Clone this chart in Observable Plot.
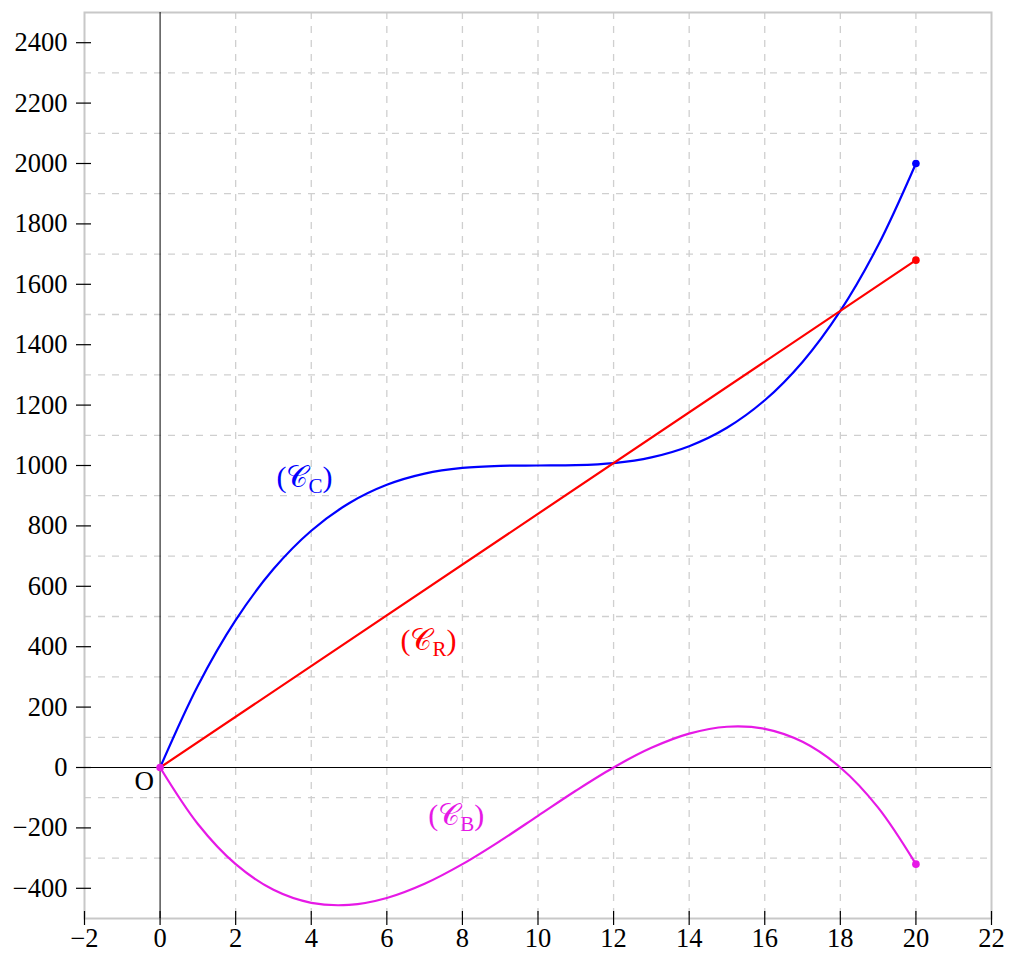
<!DOCTYPE html>
<html><head><meta charset="utf-8">
<script src="https://cdn.jsdelivr.net/npm/d3@7"></script>
<script src="https://cdn.jsdelivr.net/npm/@observablehq/plot@0.6"></script>
<style>body{margin:0;background:#fff}</style>
</head><body><div id="chart"></div>
<script>
// Data
const xs = [0,1,2,3,4,5,6,7,8,9,10,11,12,13,14,15,16,17,18,19,20];
const costC = [0,271,488,657,784,875,936,973,992,999,1000,1001,1008,1027,1064,1125,1216,1343,1512,1729,2000];
const revenueX = [0,20];
const revenueR = [0,1680];
const profitB = [0,-187,-320,-405,-448,-455,-432,-385,-320,-243,-160,-77,0,65,112,135,128,85,0,-133,-320];
const xTicks = [-2,0,2,4,6,8,10,12,14,16,18,20,22];
const yTicks = [-400,-200,0,200,400,600,800,1000,1200,1400,1600,1800,2000,2200,2400];
const xGrid = [2,4,6,8,10,12,14,16,18,20];
const yGrid = [-300,-100,100,300,500,700,900,1100,1300,1500,1700,1900,2100,2300];
const xDomain = [-2,22];
const yDomain = [-500,2500];
const labelNames = ["C","R","B"];
const labelX = [3.82,7.1,7.84];
const labelY = [960,420,-160];
const colors = {C:"#0000ff", R:"#ff0000", B:"#e619e6"};

const seriesC = xs.map((x,i)=>({x, y: costC[i]}));
const seriesR = revenueX.map((x,i)=>({x, y: revenueR[i]}));
const seriesB = xs.map((x,i)=>({x, y: profitB[i]}));
const labels = labelNames.map((n,i)=>({n, x: labelX[i], y: labelY[i]}));
const endDots = [
  {x: xs[xs.length-1], y: costC[costC.length-1], c: colors.C},
  {x: revenueX[1], y: revenueR[1], c: colors.R},
  {x: xs[xs.length-1], y: profitB[profitB.length-1], c: colors.B},
  {x: xs[0], y: profitB[0], c: colors.B}
];

const grid = {stroke:"#cfcfcf", strokeWidth:1.3, strokeDasharray:"7 7"};
const fmt = d3.format("");

const chart = Plot.plot({
  width: 1010, height: 954,
  marginLeft: 84, marginRight: 19, marginTop: 12, marginBottom: 36,
  style: {fontFamily: "'Liberation Serif', serif", fontSize: "26px", background: "#fff"},
  x: {domain: xDomain, label: null},
  y: {domain: yDomain, label: null},
  marks: [
    Plot.ruleX(xGrid, grid),
    Plot.ruleY(yGrid, grid),
    Plot.frame({stroke:"#c8c8c8", strokeWidth:2}),
    Plot.ruleX([0], {stroke:"black", strokeWidth:1}),
    Plot.ruleY([0], {stroke:"black", strokeWidth:1}),
    Plot.ruleY(yTicks, {y: d=>d, x1: d=>xDomain[0], x2: d=>xDomain[0], insetLeft:-8, insetRight:-7, stroke:"black", strokeWidth:1.2}),
    Plot.ruleX(xTicks, {x: d=>d, y1: d=>yDomain[0], y2: d=>yDomain[0], insetTop:-7, insetBottom:-7, stroke:"black", strokeWidth:1.2}),
    Plot.axisY(yTicks, {tickSize:0, tickPadding:17, fontSize:26.5, tickFormat: fmt, label:null}),
    Plot.axisX(xTicks, {tickSize:0, tickPadding:10, fontSize:26.5, tickFormat: fmt, label:null}),
    Plot.line(seriesC, {x:"x", y:"y", stroke: colors.C, strokeWidth:2.2, curve:"catmull-rom"}),
    Plot.line(seriesR, {x:"x", y:"y", stroke: colors.R, strokeWidth:2.2}),
    Plot.line(seriesB, {x:"x", y:"y", stroke: colors.B, strokeWidth:2.2, curve:"catmull-rom"}),
    Plot.dot(endDots, {x:"x", y:"y", fill: d=>d.c, r:3.8}),
    Plot.text(labels, {x:"x", y:"y", text: d=>`(𝒞${d.n})`, fill: d=>colors[d.n], fontSize:30}),
    Plot.text([{x:0,y:0}], {x:"x", y:"y", text: ()=>"O", textAnchor:"end", dx:-6, dy:14, fontSize:27, fill:"black"})
  ]
});

// Turn the subscript letter into a real subscript tspan
chart.querySelectorAll("text").forEach(t => {
  const m = t.textContent.match(/^\(𝒞(.)\)$/);
  if (!m) return;
  t.textContent = "";
  const ns = "http://www.w3.org/2000/svg";
  const a = document.createElementNS(ns, "tspan"); a.textContent = "(𝒞";
  const b = document.createElementNS(ns, "tspan"); b.textContent = m[1];
  b.setAttribute("font-size", "21"); b.setAttribute("dy", "6");
  const c = document.createElementNS(ns, "tspan"); c.textContent = ")";
  c.setAttribute("dy", "-6");
  t.append(a, b, c);
});

document.getElementById("chart").append(chart);
</script>
</body></html>
